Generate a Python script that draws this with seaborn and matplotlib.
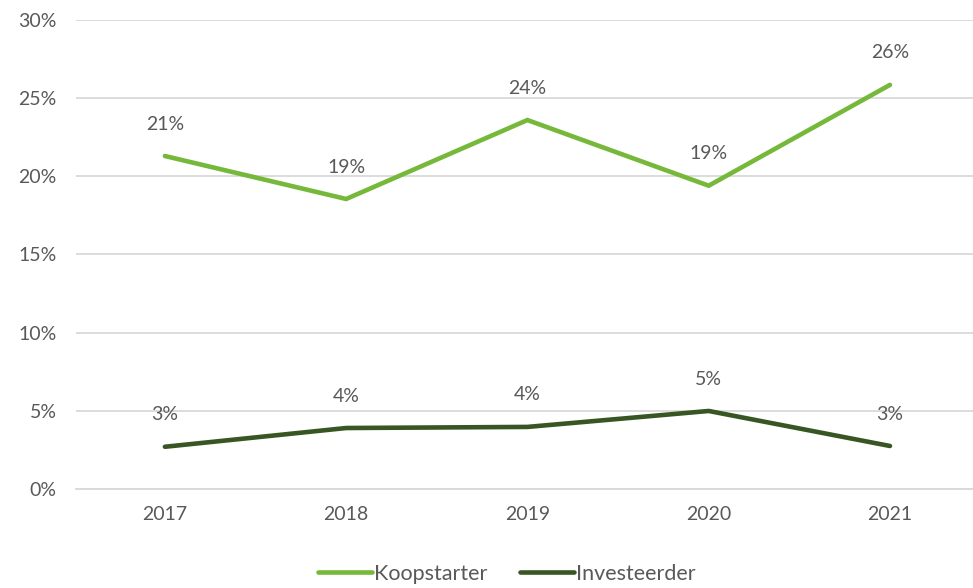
import matplotlib
matplotlib.use("Agg")
import matplotlib.pyplot as plt
import seaborn as sns
import pandas as pd

years = ["2017", "2018", "2019", "2020", "2021"]
koopstarter = [21.3, 18.55, 23.6, 19.4, 25.85]
investeerder = [2.7, 3.9, 3.97, 4.99, 2.75]
series_names = ["Koopstarter", "Investeerder"]
colors = ["#76B83A", "#375623"]

df = pd.DataFrame({
    "year": years * 2,
    "value": koopstarter + investeerder,
    "series": [series_names[0]] * len(years) + [series_names[1]] * len(years),
})

sns.set_theme(style="white")
plt.rcParams["font.family"] = ["Lato", "DejaVu Sans"]
text_color = "#595959"
fs = 14

fig = plt.figure(figsize=(9.73, 5.88), dpi=100)
ax = fig.add_axes([0.078, 0.1684, 0.922, 0.7976])

sns.lineplot(data=df, x="year", y="value", hue="series", palette=colors,
             linewidth=3.3, ax=ax, legend=False, sort=False)
for line in ax.lines:
    line.set_solid_capstyle("round")
    line.set_solid_joinstyle("miter")

for vals in (koopstarter, investeerder):
    for i, v in enumerate(vals):
        ax.annotate(f"{round(v):d}%", (i, v), xytext=(0, 23), textcoords="offset points",
                    ha="center", va="center", fontsize=fs, color=text_color)

ax.set_xlim(-0.491, 4.458)
ax.set_ylim(0, 30)
ax.set_yticks(range(0, 31, 5))
ax.set_yticklabels([f"{t}%" for t in range(0, 31, 5)])
ax.grid(axis="y", color="#D9D9D9", linewidth=1.3)
ax.set_axisbelow(True)
for s in ax.spines.values():
    s.set_visible(False)
ax.spines["bottom"].set_visible(True)
ax.spines["bottom"].set_color("#D9D9D9")
ax.spines["bottom"].set_linewidth(1.3)
ax.tick_params(axis="both", length=0, labelsize=fs, labelcolor=text_color)
ax.tick_params(axis="x", pad=12)
ax.tick_params(axis="y", pad=14)
ax.set_xlabel("")
ax.set_ylabel("")

handles = [plt.Line2D([], [], color=c, linewidth=3.3, solid_capstyle="round") for c in colors]
fig.legend(handles, series_names, loc="center", bbox_to_anchor=(0.521, 0.024), ncol=2,
           frameon=False, fontsize=15.5, handlelength=2.5, handletextpad=0.1, columnspacing=1.5,
           labelcolor=text_color)

fig.savefig("out.png", dpi=100)
